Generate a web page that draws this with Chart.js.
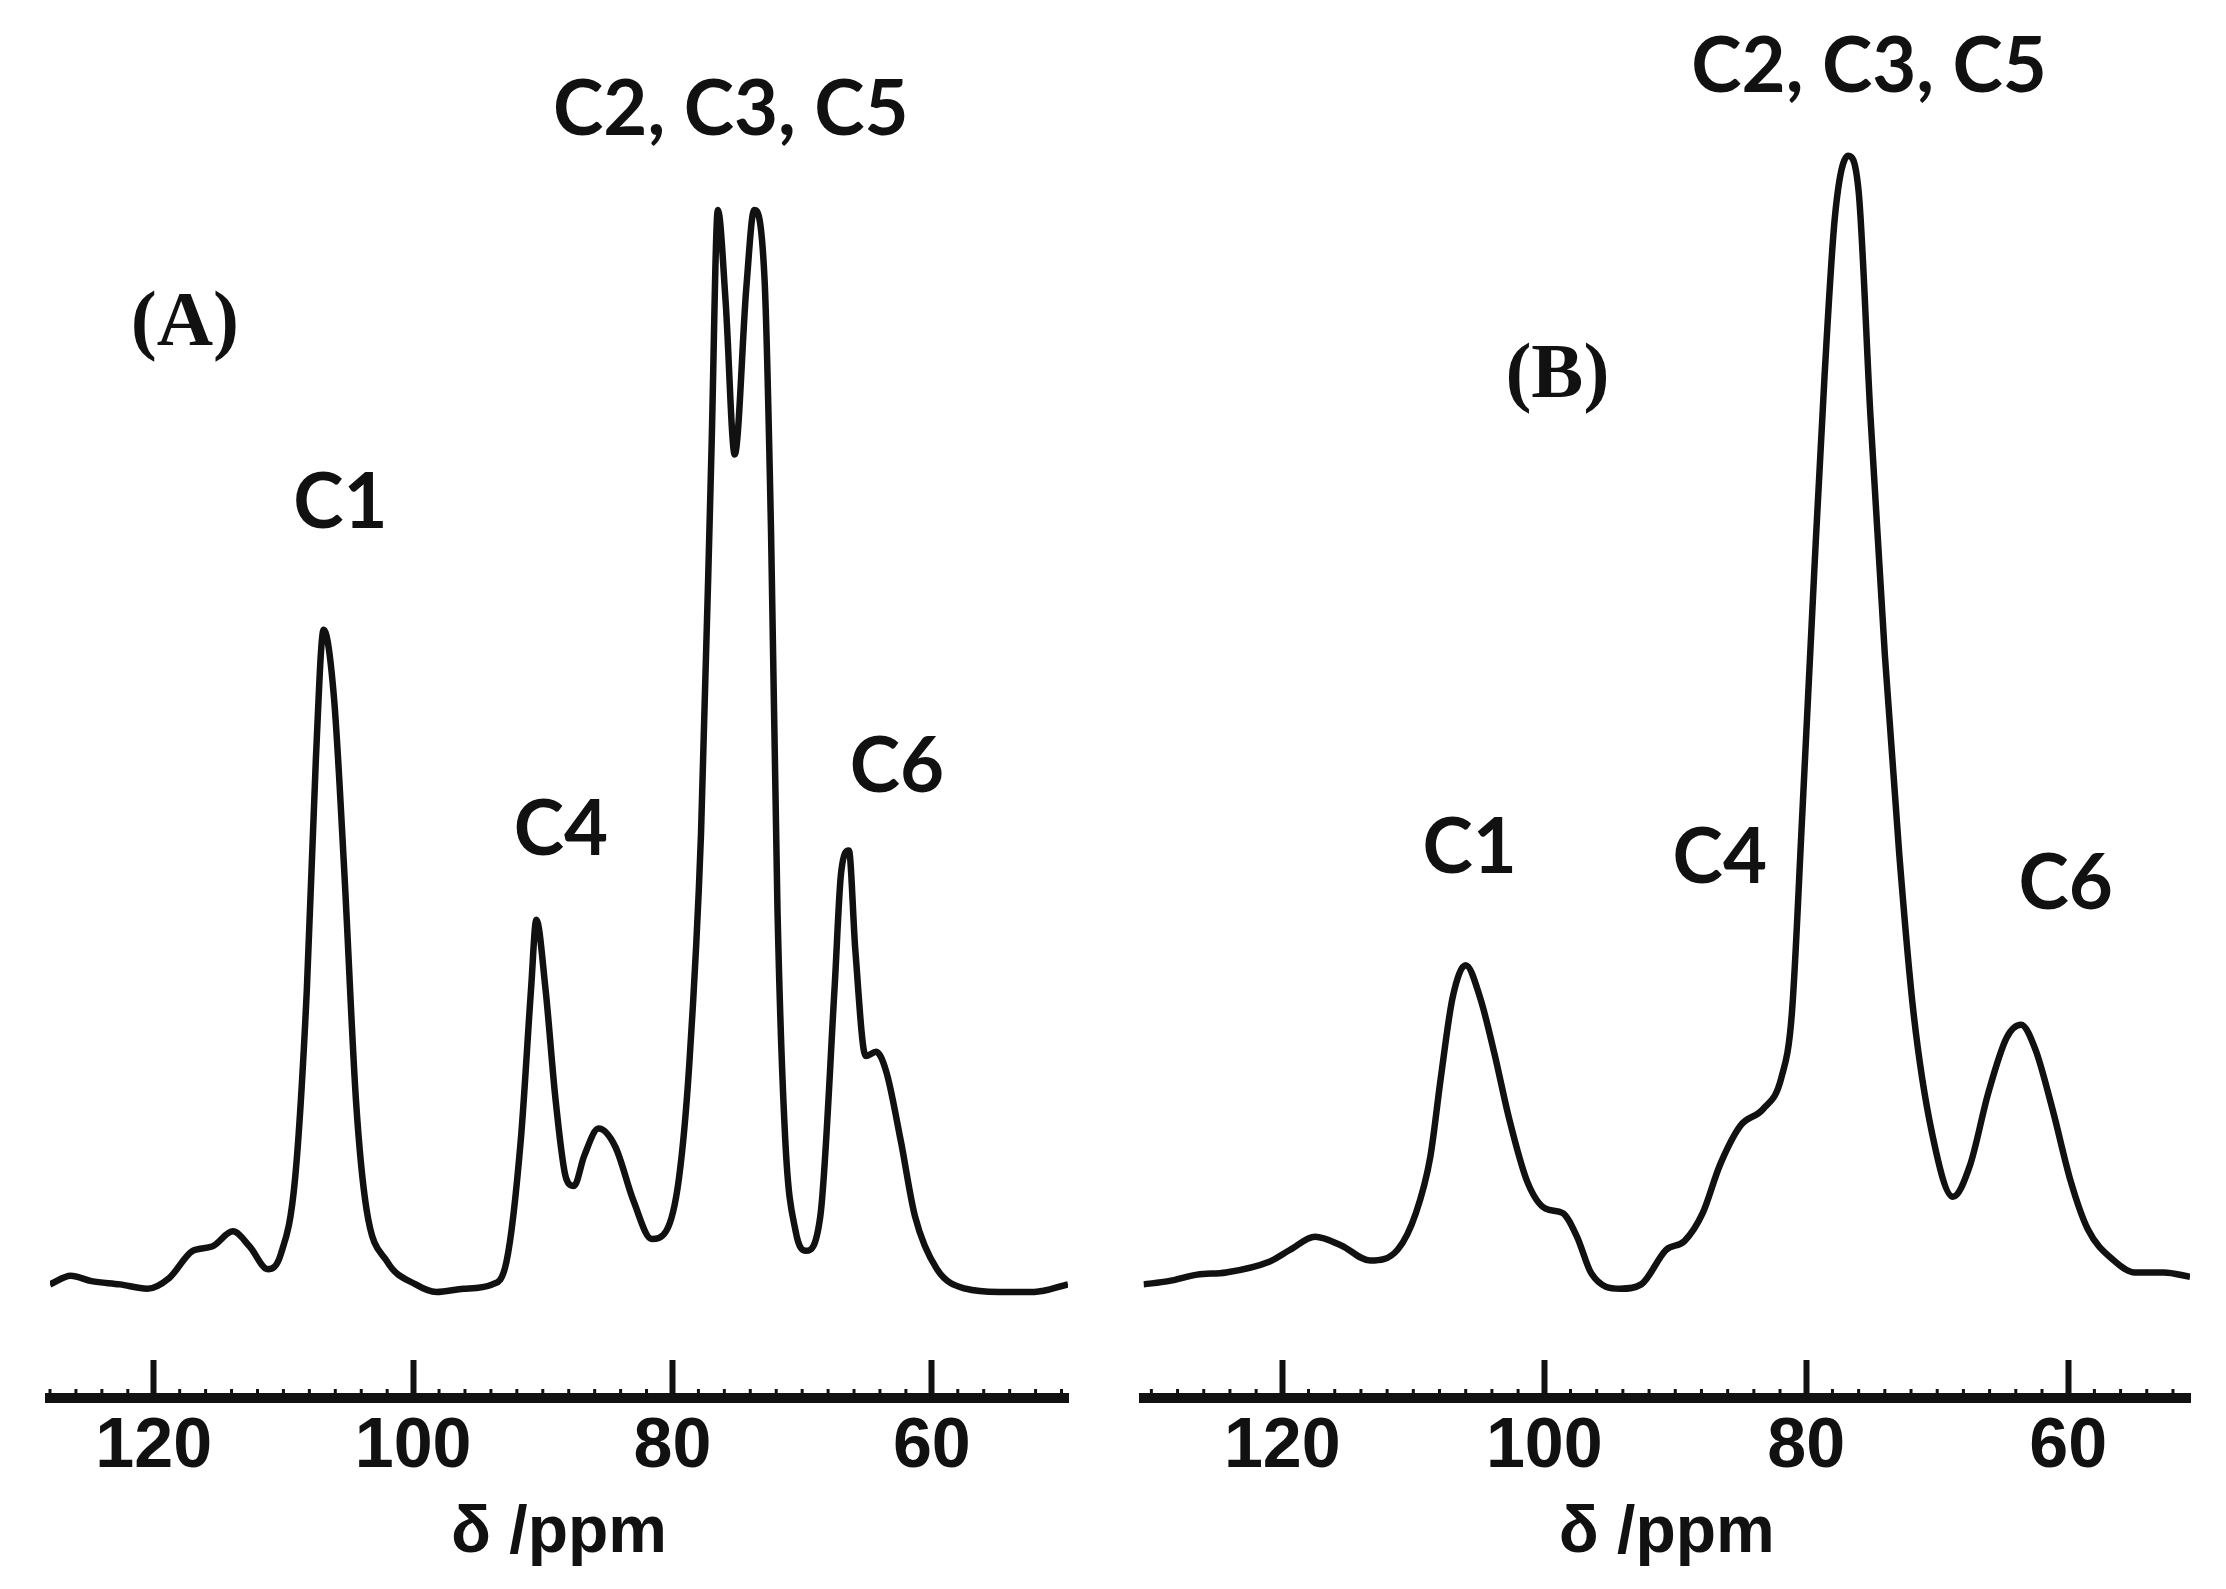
<!DOCTYPE html>
<html>
<head>
<meta charset="utf-8">
<script src="https://cdn.jsdelivr.net/npm/chart.js@4.4.1/dist/chart.umd.min.js"></script>
<style>
    html, body { margin: 0; padding: 0; background: #fff; }
    #wrap { position: relative; width: 2226px; height: 1589px; background: #fff; }
    .panel { position: absolute; top: 0; height: 1589px; }
    #panelA { left: 0; width: 1110px; }
    #panelB { left: 1110px; width: 1116px; }
</style>
</head>
<body>
<div id="wrap">
    <div class="panel" id="panelA"><canvas id="chartA"></canvas></div>
    <div class="panel" id="panelB"><canvas id="chartB"></canvas></div>
</div>
<script>
// Spectrum (A): chemical shift (ppm) and relative intensity
const ppmA = [128.0, 126.4, 124.8, 122.6, 120.5, 118.8, 117.0, 115.5, 113.9, 112.6, 111.2, 110.2,
    109.1, 108.2, 107.5, 106.9, 106.1, 105.3, 104.4, 103.6, 102.0, 99.8, 98.2, 96.1, 93.9,
    92.8, 91.7, 90.9, 90.5, 89.8, 89.0, 88.2, 87.6, 86.8, 85.7, 84.4, 83.0, 81.6, 80.5,
    79.5, 78.7, 77.8, 77.0, 76.5, 75.9, 75.2, 74.3, 73.7, 72.9, 72.4, 71.9, 71.3, 70.5,
    69.7, 68.6, 67.5, 67.0, 66.4, 65.9, 65.1, 64.3, 63.5, 62.4, 61.3, 59.6, 57.4, 54.8, 52.1, 49.5];
const intA = [0.7, 1.5, 1.0, 0.7, 0.3, 1.3, 3.8, 4.2, 5.6, 4.2, 2.1, 3.5,
    10.5, 27.8, 49.2, 61.2, 54.9, 38.7, 17.6, 7.7, 2.8, 0.7, 0.0, 0.3, 0.7,
    2.8, 14.0, 28.1, 34.4, 28.1, 17.6, 10.5, 9.8, 12.6, 15.1, 13.4, 8.4, 4.9, 5.6,
    10.5, 21.1, 42.3, 77.4, 100, 91.5, 77.4, 92.9, 100, 93.6, 70.3, 35.2, 14.0, 5.6,
    3.8, 7.0, 28.1, 38.7, 40.8, 31.6, 21.8, 22.2, 20.3, 14.0, 7.0, 2.1, 0.3, 0.0, 0.0, 0.7];

// Spectrum (B)
const ppmB = [130.6, 128.7, 126.5, 124.3, 121.0, 119.4, 117.5, 115.5, 113.3, 111.2, 109.8, 108.7,
    107.9, 107.0, 106.0, 104.9, 103.8, 102.7, 101.3, 99.9, 98.6, 97.5, 96.4, 94.2, 92.6,
    90.7, 89.3, 87.9, 86.6, 85.0, 83.3, 81.9, 81.1, 80.3, 79.4, 78.6, 77.8, 76.8, 76.0,
    75.1, 74.0, 72.9, 71.8, 70.4, 68.8, 67.5, 66.1, 64.7, 63.6, 62.5, 61.2, 59.8, 58.5,
    56.5, 54.9, 52.7, 50.7];
const intB = [0.7, 1.0, 1.6, 1.8, 2.8, 3.9, 5.1, 4.3, 2.9, 3.9, 7.3, 12.5,
    19.8, 27.2, 30.2, 27.2, 22.0, 16.1, 10.2, 7.7, 7.3, 5.1, 1.7, 0.3, 0.7,
    3.9, 4.7, 7.3, 11.7, 15.4, 16.9, 19.8, 25.7, 44.2, 66.3, 84.7, 99.5, 105.0, 101.7,
    81.0, 58.9, 40.5, 25.7, 14.7, 8.8, 11.7, 18.4, 23.5, 24.7, 22.4, 16.9, 10.2, 5.8,
    2.9, 1.8, 1.8, 1.4];

const tickValues = [120, 100, 80, 60];
const axisTitle = 'δ /ppm';

// peak annotations, anchored in data units (ppm, intensity of the text baseline)
const peakTextA = ['C2, C3, C5', 'C1', 'C4', 'C6'];
const peakPpmA = [75.5, 105.6, 88.6, 62.7];
const peakLevelA = [106.9, 70.6, 40.4, 46.2];
const peakTextB = ['C2, C3, C5', 'C1', 'C4', 'C6'];
const peakPpmB = [75.2, 105.7, 86.6, 60.2];
const peakLevelB = [110.9, 38.7, 37.8, 35.4];
const panelTag = ['(A)', '(B)'];
const tagPpm = [117.6, 99.0];
const tagLevel = [87.5, 82.7];

const LABEL_FONT = 'bold 76px Lato, "Open Sans", sans-serif';
const TAG_FONT = 'bold 78px "Liberation Serif", "Times New Roman", serif';
const AXIS_FAMILY = '"Liberation Sans", Arial, sans-serif';

function labelPlugin(texts, ppms, levels, tag, tPpm, tLevel) {
    return {
        id: 'peakLabels',
        afterDraw(chart) {
            const { ctx, scales } = chart;
            const x = scales.x, y = scales.y;
            ctx.save();
            ctx.fillStyle = '#111';
            ctx.textAlign = 'center';
            ctx.textBaseline = 'alphabetic';
            ctx.font = LABEL_FONT;
            texts.forEach((t, i) => {
                ctx.fillText(t, x.getPixelForValue(ppms[i]), y.getPixelForValue(levels[i]));
            });
            ctx.font = TAG_FONT;
            ctx.fillText(tag, x.getPixelForValue(tPpm), y.getPixelForValue(tLevel));

            // small minor ticks every 2 ppm, sitting on the axis line
            const top = x.top;
            ctx.strokeStyle = '#111';
            ctx.lineWidth = 3;
            for (let v = Math.ceil(x.min / 2) * 2; v <= x.max; v += 2) {
                if (v % 20 === 0) continue;
                const px = x.getPixelForValue(v);
                ctx.beginPath();
                ctx.moveTo(px, top);
                ctx.lineTo(px, top - 9);
                ctx.stroke();
            }
            ctx.restore();
        }
    };
}

function makeSpectrum(canvasId, ppm, intensity, xMin, xMax, pad, plugin) {
    const points = ppm.map((p, i) => ({ x: p, y: intensity[i] }));
    return new Chart(document.getElementById(canvasId), {
        type: 'line',
        data: {
            datasets: [{
                data: points,
                borderColor: '#111',
                borderWidth: 6.5,
                pointRadius: 0,
                fill: false,
                cubicInterpolationMode: 'monotone'
            }]
        },
        options: {
            responsive: true,
            maintainAspectRatio: false,
            animation: false,
            events: [],
            layout: { padding: { left: pad.left, right: pad.right, top: 0, bottom: 0 } },
            plugins: { legend: { display: false }, tooltip: { enabled: false } },
            scales: {
                x: {
                    type: 'linear',
                    reverse: true,
                    min: xMin,
                    max: xMax,
                    afterBuildTicks: (scale) => {
                        scale.ticks = tickValues.map(v => ({ value: v }));
                    },
                    afterFit: (scale) => { scale.height = 191; },
                    border: { display: true, width: 10, color: '#111' },
                    grid: {
                        display: true,
                        drawOnChartArea: false,
                        drawTicks: true,
                        tickLength: -38,
                        tickWidth: 6,
                        tickColor: '#111'
                    },
                    ticks: {
                        autoSkip: false,
                        maxRotation: 0,
                        padding: 46,
                        color: '#111',
                        font: { family: AXIS_FAMILY, size: 70, weight: 'bold' }
                    },
                    title: {
                        display: true,
                        text: axisTitle,
                        color: '#111',
                        padding: { top: 0, bottom: 16 },
                        font: { family: AXIS_FAMILY, size: 66, weight: 'bold' }
                    }
                },
                y: {
                    display: false,
                    min: -9.8,
                    max: 119.4
                }
            }
        },
        plugins: [plugin]
    });
}

makeSpectrum('chartA', ppmA, intA, 49.5, 128.0, { left: 50, right: 42 },
    labelPlugin(peakTextA, peakPpmA, peakLevelA, panelTag[0], tagPpm[0], tagLevel[0]));
makeSpectrum('chartB', ppmB, intB, 50.7, 130.6, { left: 33.5, right: 36 },
    labelPlugin(peakTextB, peakPpmB, peakLevelB, panelTag[1], tagPpm[1], tagLevel[1]));
</script>
</body>
</html>
